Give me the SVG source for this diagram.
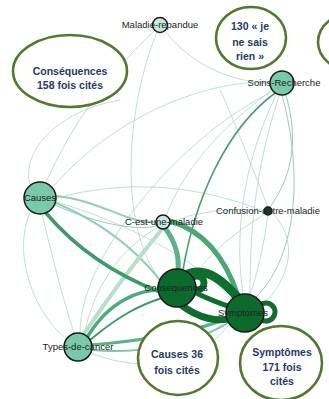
<svg xmlns="http://www.w3.org/2000/svg" width="329" height="399" viewBox="0 0 329 399">
<style>
.e{fill:none;stroke-linecap:round}
.t1{stroke:#b3d6c8;stroke-width:0.8}
.t2{stroke:#98ccb7;stroke-width:1}
.m1{stroke:#8fd0b6;stroke-width:2}
.lt{stroke:#b4e0cd;stroke-width:4}
.g1{stroke:#4a9f72;stroke-width:1.6}
.dk{stroke:#0f6d30}
.node{stroke:#1a1a1a;stroke-width:1.5}
.mid{fill:#79c9ab}
.pale{fill:#c6eadc}
.dark{fill:#0b6a2c}
.lbl{font-family:"Liberation Sans",Arial,sans-serif;font-size:9.5px;fill:#222;text-anchor:middle}
.box{fill:#fff;stroke:#52792f;stroke-width:2.6}
.bt{font-family:"Liberation Sans",Arial,sans-serif;font-size:10.5px;font-weight:bold;fill:#1f3a68;text-anchor:middle}
</style>
<rect width="329" height="399" fill="#fff"/>
<g id="connectors">
<path class="e t1" d="M160,25 Q200,80 272,84"/>
<path class="e t1" d="M157,32 C125,110 118,230 162,282"/>
<path class="e t1" d="M155,30 Q85,95 46,182"/>
<path class="e t1" d="M52,188 C110,120 200,80 271,82"/>
<path class="e t1" d="M272,92 C190,130 80,250 80,333"/>
<path class="e t1" d="M272,90 Q190,150 166,216"/>
<path class="e t2" d="M282,95 C305,180 295,260 255,298"/>
<path class="e t2" d="M286,95 Q305,160 270,207"/>
<path class="e t1" d="M276,95 C240,170 235,240 243,294"/>
<path class="e t1" d="M279,96 C255,170 250,230 250,294"/>
<path class="e t1" d="M56,198 Q160,170 264,211"/>
<path class="e t1" d="M56,202 C120,220 200,260 232,300"/>
<path class="e t1" d="M30,212 C10,260 40,320 67,339"/>
<path class="e t1" d="M42,214 Q60,290 74,333"/>
<path class="e t1" d="M160,226 Q100,260 84,334"/>
<path class="e t1" d="M265,214 Q220,240 192,278"/>
<path class="e t1" d="M268,215 Q262,260 250,295"/>
<path class="e t1" d="M264,211 Q215,205 170,222"/>
<path class="e t1" d="M92,354 Q180,385 232,322"/>
<path class="e t1" d="M228,320 Q215,330 205,337"/>
<path class="e t1" d="M30,185 C20,150 60,110 120,100"/>
<path class="e t1" d="M268,207 C245,150 230,110 220,90"/>
<path class="e t1" d="M272,213 C300,240 290,280 262,305"/>
<path class="e t2" d="M55,205 C110,230 150,230 158,225"/>
<path class="e m1" d="M56,196 C100,200 130,225 156,222"/>
<path class="e m1" d="M56,203 Q120,230 160,280"/>
<path class="e lt" d="M84,334 Q120,280 162,229"/>
<path class="e g1" d="M275,93 C225,130 195,200 183,270"/>
<path class="e" stroke="#3e9a6c" stroke-width="3.5" d="M46,213 Q90,265 160,292"/>
<path class="e" stroke="#5cb38a" stroke-width="5" d="M165,228 Q180,248 178,270"/>
<path class="e" stroke="#4aa878" stroke-width="5" d="M170,221 Q218,235 238,296"/>
<path class="e" stroke="#4ea97c" stroke-width="3.5" d="M88,336 C110,300 140,290 160,290"/>
<path class="e" stroke="#3c9a6a" stroke-width="2" d="M90,340 C120,315 140,305 162,298"/>
<path class="e" stroke="#5ab387" stroke-width="3" d="M90,345 C150,340 200,330 228,318"/>
<path class="e" stroke="#7cc5a5" stroke-width="2" d="M92,350 C150,355 200,340 230,322"/>
<path class="e dk" stroke-width="9" d="M188,274 C208,266 226,284 238,298"/>
<path class="e dk" stroke-width="7" d="M180,304 C200,320 220,322 232,318"/>
<path class="e dk" stroke-width="5" d="M192,291 C210,300 224,305 234,308"/>
<circle class="e dk" stroke-width="7" cx="197" cy="283" r="7"/>
<circle class="e dk" stroke-width="5" cx="266" cy="312" r="9"/>
</g>
<g id="box-consequences"><ellipse class="box" cx="70" cy="71" rx="57" ry="36"/><text class="bt" x="70" y="75">Conséquences</text><text class="bt" x="70" y="89">158 fois cités</text></g>
<g id="box-jenesaisrien"><ellipse class="box" cx="251" cy="38" rx="35" ry="31"/><text class="bt" x="250" y="30">130 «  je</text><text class="bt" x="250" y="46">ne sais</text><text class="bt" x="250" y="60">rien »</text></g>
<g id="box-partial"><ellipse class="box" cx="356" cy="42" rx="38" ry="30"/></g>
<g id="box-causes"><ellipse class="box" cx="178" cy="358" rx="40" ry="37"/><text class="bt" x="177" y="358">Causes 36</text><text class="bt" x="177" y="374">fois cités</text></g>
<g id="box-symptomes"><ellipse class="box" cx="281" cy="363" rx="41" ry="37"/><text class="bt" x="282" y="356">Symptômes</text><text class="bt" x="282" y="371">171 fois</text><text class="bt" x="282" y="385">cités</text></g>
<g id="n-maladie"><circle class="node pale" cx="160" cy="25" r="7.5"/><text class="lbl" x="160" y="28">Maladie-repandue</text></g>
<g id="n-soins"><circle class="node mid" cx="282" cy="83" r="12"/><text class="lbl" x="284" y="86">Soins-Recherche</text></g>
<g id="n-causes"><circle class="node mid" cx="40" cy="198" r="16"/><text class="lbl" x="40" y="201">Causes</text></g>
<g id="n-cest"><circle class="node pale" cx="163" cy="222" r="7"/><text class="lbl" x="164" y="225">C-est-une-maladie</text></g>
<g id="n-confusion"><circle class="node" fill="#1b3d28" cx="268" cy="211" r="4"/><text class="lbl" x="268" y="214">Confusion-autre-maladie</text></g>
<g id="n-consequences"><circle class="node dark" cx="177" cy="288" r="19"/><text class="lbl" x="176" y="291">Consequences</text></g>
<g id="n-symptomes"><circle class="node dark" cx="245" cy="313" r="19"/><text class="lbl" x="243" y="316">Symptomes</text></g>
<g id="n-types"><circle class="node mid" cx="78" cy="347" r="14"/><text class="lbl" x="78" y="350">Types-de-cancer</text></g>
</svg>
